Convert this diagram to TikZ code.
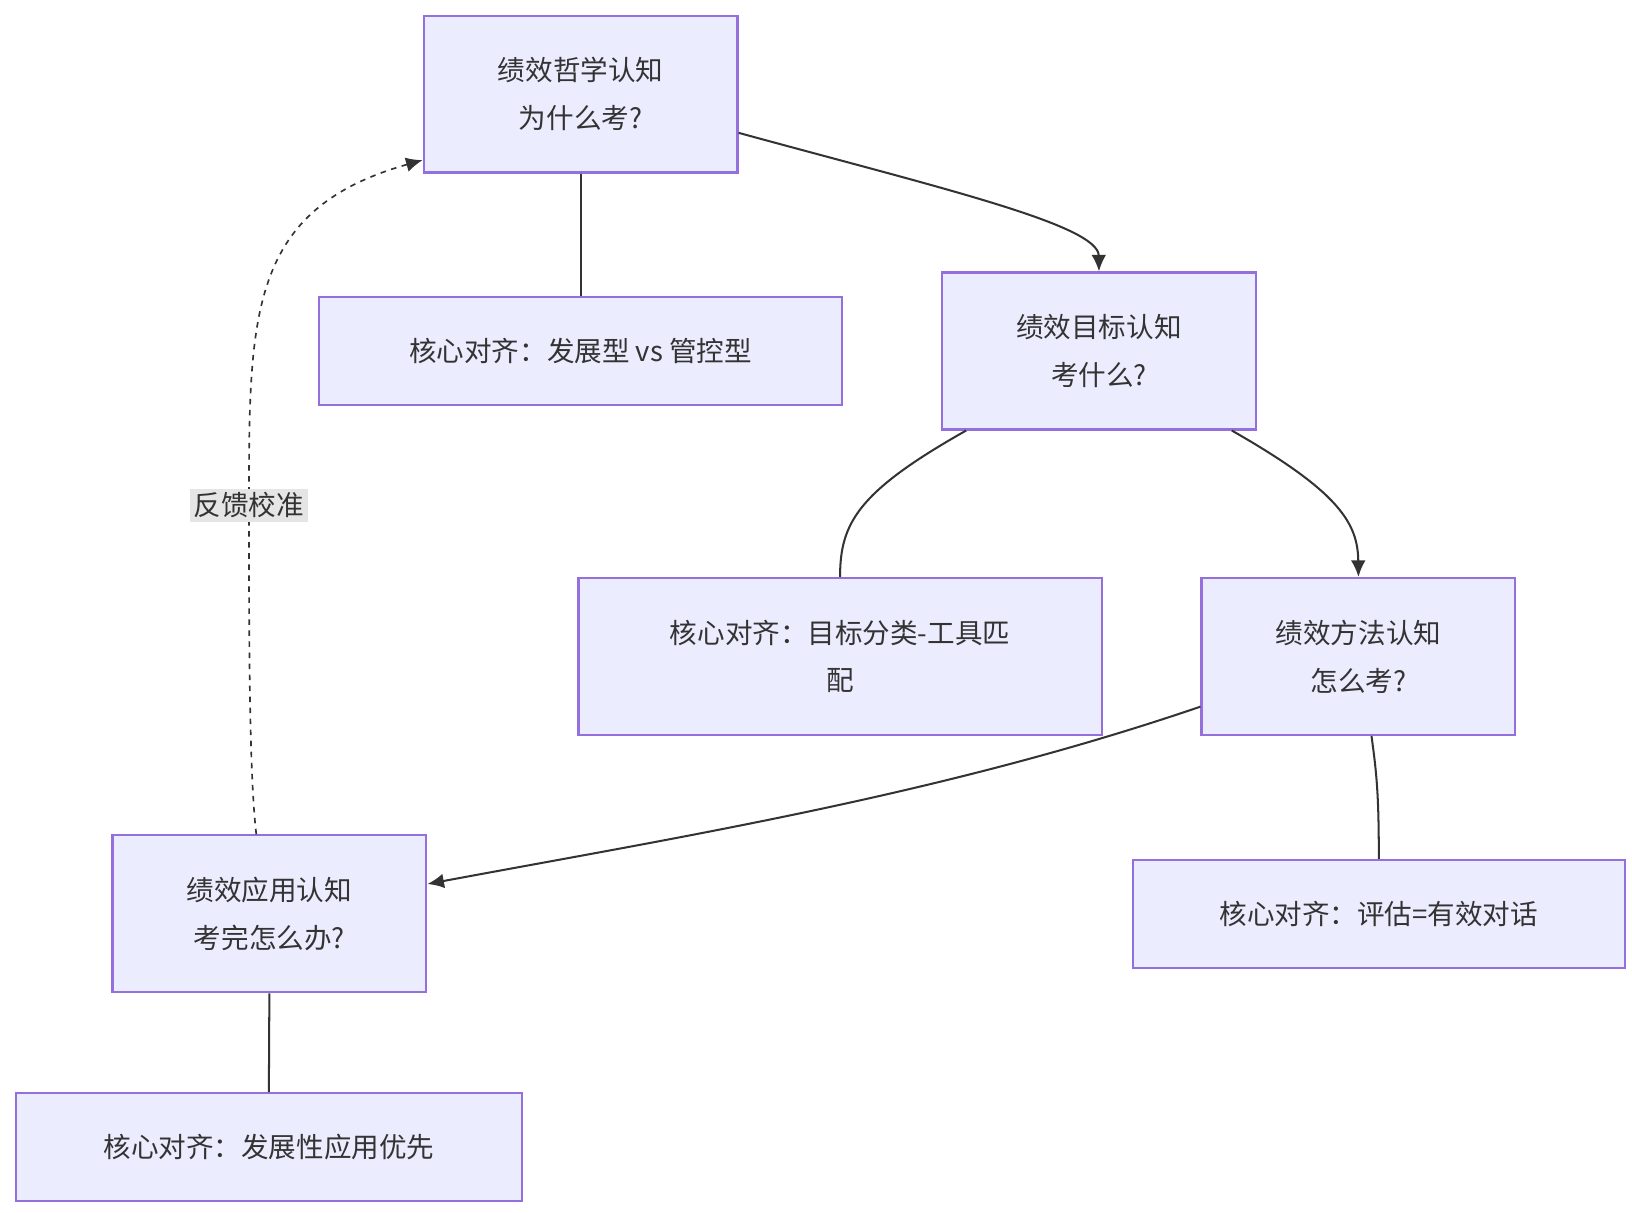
\documentclass[tikz,border=0pt]{standalone}
\usepackage{fontspec}
\setmainfont{Noto Sans CJK SC}
\usetikzlibrary{arrows.meta,calc}
\definecolor{nfill}{HTML}{ECECFF}
\definecolor{ndraw}{HTML}{9370DB}
\definecolor{ln}{HTML}{333333}
\begin{document}
\begin{tikzpicture}[x=0.02cm,y=-0.02cm,
  box/.style={draw=ndraw,fill=nfill,line width=1.2pt,minimum width=#1*0.02cm,align=center,font=\fontsize{15}{26}\selectfont,text=ln,inner sep=0pt},
  conn/.style={draw=ln,line width=1.1pt},
  arr/.style={conn,-{Latex[length=9pt,width=8pt]}}]
\useasboundingbox (0,0) rectangle (1560,1159);
\node[box=300,minimum height=3cm] (A) at (555,90) {绩效哲学认知\\为什么考?};
\node[box=500,minimum height=2.06cm] (A1) at (555,335.5) {核心对齐：发展型 vs 管控型};
\node[box=300,minimum height=3cm] (B) at (1050.5,335.5) {绩效目标认知\\考什么?};
\node[box=500,minimum height=3cm] (B1) at (803,627.5) {核心对齐：目标分类-工具匹\\配};
\node[box=300,minimum height=3cm] (C) at (1298.5,627.5) {绩效方法认知\\怎么考?};
\node[box=470,minimum height=2.06cm] (C1) at (1318,873.5) {核心对齐：评估=有效对话};
\node[box=300,minimum height=3cm] (D) at (257.5,873.5) {绩效应用认知\\考完怎么办?};
\node[box=484,minimum height=2.06cm] (D1) at (257,1096.5) {核心对齐：发展性应用优先};
\draw[arr] ([yshift=-0.74cm]A.east) .. controls (900,180) and (1050,215) .. (B.north);
\draw[conn] (A.south) -- (A1.north);
\draw[conn] ([xshift=-2.54cm]B.south) .. controls (820,470) and (803,500) .. (B1.north);
\draw[arr] ([xshift=2.54cm]B.south) .. controls (1280,470) and (1298,500) .. (C.north);
\draw[conn] ([xshift=0.25cm]C.south) .. controls (1316,740) and (1318,760) .. (C1.north);
\draw[arr] ([yshift=-0.96cm]C.west) .. controls (900,760) and (650,800) .. ([yshift=0.57cm]D.east);
\draw[conn] (D.south) -- (D1.north);
\draw[arr,dashed,line width=0.9pt] ([xshift=-0.25cm]D.north) .. controls (238,740) and (238,600) .. (238,483)
  .. controls (238,300) and (238,200) .. ([yshift=0.26cm]A.south west);
\node[fill=gray!20,text=ln,inner sep=2pt,font=\fontsize{15}{18}\selectfont] (L) at (238,483) {反馈校准};
\end{tikzpicture}
\end{document}
